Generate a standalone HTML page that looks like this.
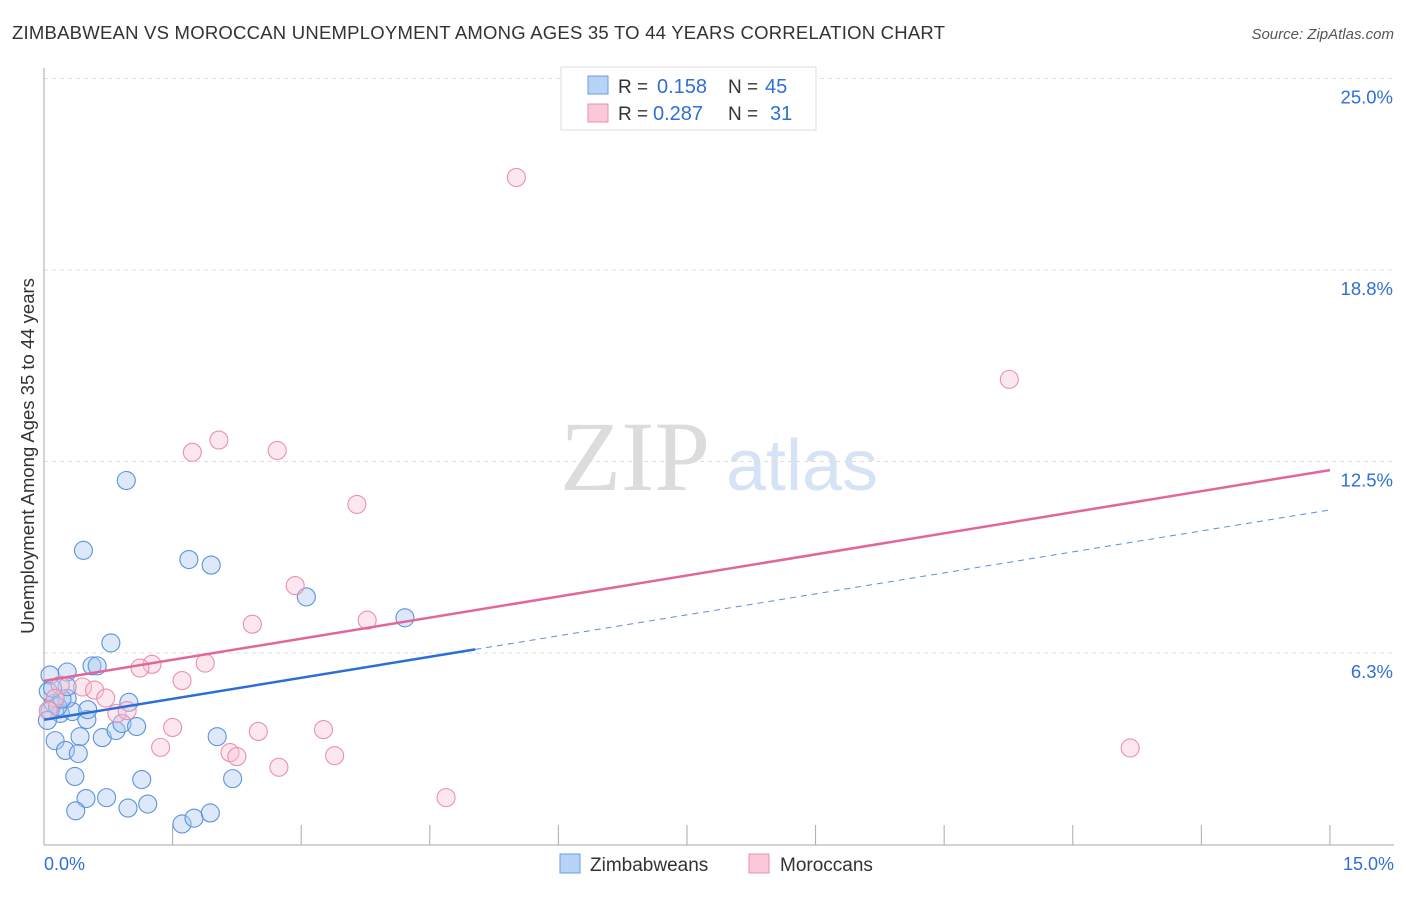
<!DOCTYPE html>
<html><head><meta charset="utf-8"><style>
body{margin:0;background:#fff;font-family:"Liberation Sans",sans-serif}
</style></head><body>
<svg width="1406" height="892" id="c" font-family="Liberation Sans, sans-serif">
<text x="12" y="39" font-size="18.5" fill="#333" textLength="933">ZIMBABWEAN VS MOROCCAN UNEMPLOYMENT AMONG AGES 35 TO 44 YEARS CORRELATION CHART</text>
<text x="1394" y="39" font-size="15" fill="#555" font-style="italic" text-anchor="end">Source: ZipAtlas.com</text>
<text x="635" y="490" font-size="100" fill="#dcdcdc" style="font-family:'Liberation Serif',serif" text-anchor="middle">ZIP</text>
<text x="802" y="490" font-size="72" fill="#d6e3f5" text-anchor="middle">atlas</text>
<text transform="translate(34,456) rotate(-90)" font-size="18.5" fill="#333" text-anchor="middle">Unemployment Among Ages 35 to 44 years</text>
<g id="grid"></g><g id="pts"></g><g id="lines"></g>
<g>
<rect x="561" y="67" width="255" height="63" fill="#fff" stroke="#ddd"/>
<rect x="588" y="76" width="20" height="18" fill="#b8d3f5" stroke="#6a9de0"/>
<rect x="588" y="104" width="20" height="18" fill="#fac8d8" stroke="#e890ae"/>
<text x="618" y="93" font-size="19" fill="#333">R =</text><text x="657" y="93" font-size="20" fill="#2f6fd6">0.158</text>
<text x="728" y="93" font-size="19" fill="#333">N =</text><text x="765" y="93" font-size="20" fill="#2f6fd6">45</text>
<text x="618" y="120" font-size="19" fill="#333">R =</text><text x="653" y="120" font-size="20" fill="#2f6fd6">0.287</text>
<text x="728" y="120" font-size="19" fill="#333">N =</text><text x="770" y="120" font-size="20" fill="#2f6fd6">31</text>
</g>
<g>
<rect x="560" y="854" width="20" height="19" fill="#b8d3f5" stroke="#6a9de0"/>
<text x="590" y="871" font-size="19" fill="#333">Zimbabweans</text>
<rect x="749" y="854" width="20" height="19" fill="#fac8d8" stroke="#e890ae"/>
<text x="780" y="871" font-size="19" fill="#333">Moroccans</text>
</g>
<text x="44" y="870" font-size="18" fill="#2f6fd6">0.0%</text>
<text x="1394" y="870" font-size="18" fill="#2f6fd6" text-anchor="end">15.0%</text>
</svg>
<script>
const yTicks=[25.0,18.8,12.5,6.3];
const yTickPos=[25,18.75,12.5,6.25];
const blueX=[0.07,0.27,0.56,0.62,0.78,0.11,0.19,0.33,0.27,0.5,0.42,0.68,0.84,0.91,1.08,0.99,0.13,0.25,0.4,0.36,1.14,2.2,2.02,0.49,0.37,0.73,0.98,1.21,1.61,1.75,1.94,0.07,0.04,0.96,0.46,1.69,1.95,3.06,4.21,0.05,0.16,0.51,0.21,0.27,0.1];
const blueY=[5.53,5.63,5.83,5.83,6.58,4.6,4.28,4.34,4.77,4.08,3.52,3.49,3.72,3.95,3.85,4.64,3.39,3.07,2.97,2.22,2.12,2.15,3.52,1.5,1.1,1.53,1.19,1.32,0.67,0.86,1.03,4.37,4.05,11.88,9.6,9.3,9.12,8.08,7.4,5.0,4.5,4.4,4.75,5.15,5.1];
const pinkX=[5.51,11.26,2.04,1.73,2.72,3.65,2.93,2.43,3.77,1.88,1.26,1.12,1.61,12.67,4.69,0.45,0.59,0.72,0.85,0.97,1.5,1.36,2.17,2.25,2.5,2.74,3.26,3.39,0.19,0.13,0.05];
const pinkY=[21.77,15.18,13.2,12.8,12.86,11.1,8.45,7.19,7.32,5.92,5.88,5.76,5.35,3.15,1.53,5.14,5.04,4.78,4.28,4.37,3.82,3.17,3.0,2.87,3.69,2.52,3.75,2.9,5.2,4.77,4.37];
const pinkTrend=[5.34,12.22];
const blueTrend=[4.07,10.92];
const blueSolidEnd=5.03;
const NS="http://www.w3.org/2000/svg";
const X=v=>44+v*85.73, Y=v=>844.5-v*30.64;
function mk(t,a,p){const e=document.createElementNS(NS,t);for(const k in a)e.setAttribute(k,a[k]);p.appendChild(e);return e;}
const g=document.getElementById('grid');
yTickPos.forEach((v,i)=>{
 const l=mk('line',{x1:44,x2:1394,y1:Y(v),y2:Y(v),stroke:'#ddd','stroke-dasharray':'4,4'},g);
 
 
 const t=mk('text',{x:1393,y:Y(v)+25,'font-size':18.5,fill:'#2f6fd6','text-anchor':'end'},g);
 t.textContent=yTicks[i].toFixed(1)+'%';
 
 
});
mk('line',{x1:44,x2:44,y1:68,y2:845,stroke:'#aaa'},g);
mk('line',{x1:44,x2:1394,y1:845,y2:845,stroke:'#aaa'},g);
for(let i=0;i<=10;i++){const t=mk('line',{x1:X(i*1.5),x2:X(i*1.5),y1:825,y2:845,stroke:'#aaa'},g);
 
 }
const P=document.getElementById('pts');
blueX.forEach((v,i)=>{const c=mk('circle',{cx:X(v),cy:Y(blueY[i]),r:9,fill:'rgba(170,200,240,0.4)',stroke:'#5b93dd','stroke-width':1.1},P);
 
 });
pinkX.forEach((v,i)=>{const c=mk('circle',{cx:X(v),cy:Y(pinkY[i]),r:9,fill:'rgba(248,195,212,0.4)',stroke:'#eb8fb0','stroke-width':1.1},P);
 
 });
const L=document.getElementById('lines');
const bAt=x=>blueTrend[0]+(blueTrend[1]-blueTrend[0])*x/15;
let l1=mk('line',{x1:X(0),y1:Y(pinkTrend[0]),x2:X(15),y2:Y(pinkTrend[1]),stroke:'#e0679a','stroke-width':2.5},L);


let l2=mk('line',{x1:X(0),y1:Y(bAt(0)),x2:X(blueSolidEnd),y2:Y(bAt(blueSolidEnd)),stroke:'#2a6fd6','stroke-width':2.5},L);


let l3=mk('line',{x1:X(blueSolidEnd),y1:Y(bAt(blueSolidEnd)),x2:X(15),y2:Y(bAt(15)),stroke:'#5b8fd8','stroke-width':1,'stroke-dasharray':'6,5'},L);


</script>
</body></html>
